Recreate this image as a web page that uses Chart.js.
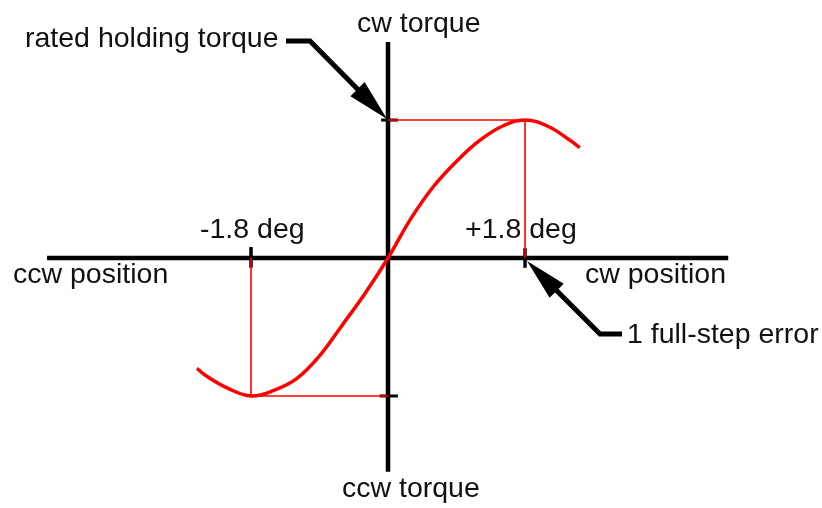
<!DOCTYPE html>
<html>
<head>
<meta charset="utf-8">
<script src="https://cdn.jsdelivr.net/npm/chart.js@4.4.1/dist/chart.umd.min.js"></script>
<style>
html,body{margin:0;padding:0;background:#fff;}
#wrap{width:822px;height:508px;position:relative;}
</style>
</head>
<body>
<div id="wrap"><canvas id="c"></canvas></div>
<script>
// Rotor position (deg) and torque (fraction of rated holding torque)
const positionDeg = [-2.51, -2.4, -2.1, -1.8, -1.5, -1.2, -0.9, -0.6, -0.3, 0, 0.3, 0.6, 0.9, 1.2, 1.5, 1.8, 2.1, 2.4, 2.52];
const torque      = [-0.80, -0.85, -0.945, -1.00, -0.96, -0.875, -0.71, -0.485, -0.255, 0, 0.285, 0.52, 0.70, 0.85, 0.955, 1.00, 0.955, 0.85, 0.80];
const stepDeg = 1.8;
const ratedTorque = 1.0;
const xAxisExtent = [-4.48, 4.47];
const yAxisExtent = [-1.55, 1.565];
const tickLabels = { minus: '-1.8 deg', plus: '+1.8 deg' };
const axisLabels = { ccwPos: 'ccw position', cwPos: 'cw position', cwTorque: 'cw torque', ccwTorque: 'ccw torque' };
const callouts = { holding: 'rated holding torque', error: '1 full-step error' };

const curve = positionDeg.map((x, i) => ({ x, y: torque[i] }));

const annot = {
  id: 'annot',
  afterDatasetsDraw(chart) {
    const ctx = chart.ctx, xs = chart.scales.x, ys = chart.scales.y;
    const px = v => xs.getPixelForValue(v), py = v => ys.getPixelForValue(v);
    ctx.save();
    ctx.fillStyle = '#111';
    ctx.font = '28.5px "Liberation Sans", Arial, sans-serif';
    ctx.textBaseline = 'alphabetic';
    ctx.textAlign = 'left';
    ctx.fillText(callouts.holding, 25, 47);
    ctx.fillText(axisLabels.cwTorque, 357, 32);
    ctx.fillText(tickLabels.minus, 200, 238);
    ctx.fillText(tickLabels.plus, 465, 238);
    ctx.fillText(axisLabels.ccwPos, 13, 283);
    ctx.fillText(axisLabels.cwPos, 585, 283);
    ctx.fillText(callouts.error, 627, 343);
    ctx.fillText(axisLabels.ccwTorque, 342, 497);
    const arrow = (pts, tip) => {
      ctx.strokeStyle = '#000'; ctx.fillStyle = '#000';
      ctx.lineWidth = 5; ctx.lineJoin = 'miter';
      const last = pts[pts.length - 1];
      const ang = Math.atan2(tip[1] - last[1], tip[0] - last[0]);
      const L = 42, W = 10;
      const bx = tip[0] - L * Math.cos(ang), by = tip[1] - L * Math.sin(ang);
      ctx.beginPath(); ctx.moveTo(pts[0][0], pts[0][1]);
      for (let i = 1; i < pts.length; i++) ctx.lineTo(pts[i][0], pts[i][1]);
      ctx.lineTo(bx + 2 * Math.cos(ang), by + 2 * Math.sin(ang)); ctx.stroke();
      ctx.beginPath(); ctx.moveTo(tip[0], tip[1]);
      ctx.lineTo(bx + W * Math.sin(ang), by - W * Math.cos(ang));
      ctx.lineTo(bx - W * Math.sin(ang), by + W * Math.cos(ang));
      ctx.closePath(); ctx.fill();
    };
    arrow([[286, 41], [310, 41]], [px(0) - 1, py(ratedTorque) - 1]);
    arrow([[622, 334], [600, 334]], [px(stepDeg) + 2, py(0) + 3]);
    ctx.restore();
  }
};

new Chart(document.getElementById('c'), {
  type: 'scatter',
  data: {
    datasets: [
      { data: curve, showLine: true, borderColor: '#ff0000', borderWidth: 3.5, tension: 0.4, pointRadius: 0, order: 0 },
      { data: [{x: 0, y: ratedTorque}, {x: stepDeg, y: ratedTorque}, {x: stepDeg, y: 0}], showLine: true, borderColor: '#ff0000', borderWidth: 1.6, tension: 0, pointRadius: 0, order: 1 },
      { data: [{x: -stepDeg, y: 0}, {x: -stepDeg, y: -ratedTorque}, {x: 0, y: -ratedTorque}], showLine: true, borderColor: '#ff0000', borderWidth: 1.6, tension: 0, pointRadius: 0, order: 1 },
      { data: [{x: -0.09, y: ratedTorque}, {x: 0.13, y: ratedTorque}], showLine: true, borderColor: '#000', borderWidth: 3, pointRadius: 0, order: 2 },
      { data: [{x: -0.11, y: -ratedTorque}, {x: 0.13, y: -ratedTorque}], showLine: true, borderColor: '#000', borderWidth: 3, pointRadius: 0, order: 2 },
      { data: [{x: -stepDeg, y: 0.08}, {x: -stepDeg, y: -0.07}], showLine: true, borderColor: '#000', borderWidth: 3.5, pointRadius: 0, order: 2 },
      { data: [{x: stepDeg, y: 0.07}, {x: stepDeg, y: -0.07}], showLine: true, borderColor: '#000', borderWidth: 3.5, pointRadius: 0, order: 2 },
      { data: [{x: xAxisExtent[0], y: 0}, {x: xAxisExtent[1], y: 0}], showLine: true, borderColor: '#000', borderWidth: 4.5, pointRadius: 0, order: 3 },
      { data: [{x: 0, y: yAxisExtent[0]}, {x: 0, y: yAxisExtent[1]}], showLine: true, borderColor: '#000', borderWidth: 4.5, pointRadius: 0, order: 3 }
    ]
  },
  options: {
    responsive: true,
    maintainAspectRatio: false,
    animation: false,
    layout: { padding: 0 },
    plugins: { legend: { display: false }, tooltip: { enabled: false } },
    scales: {
      x: { type: 'linear', display: false, min: -5.098, max: 5.702 },
      y: { type: 'linear', display: false, min: -1.812, max: 1.870 }
    }
  },
  plugins: [annot]
});
</script>
</body>
</html>
